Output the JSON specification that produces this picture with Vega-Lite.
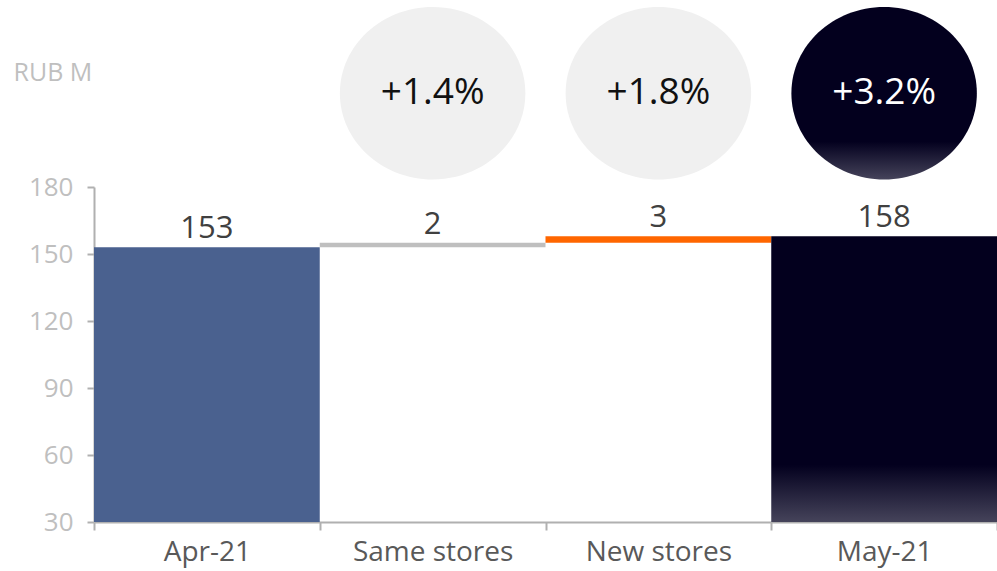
{
  "$schema": "https://vega.github.io/schema/vega-lite/v6.json",
  "autosize": "none",
  "width": 903,
  "height": 335,
  "padding": {"left": 94, "top": 187, "right": 0, "bottom": 49},
  "background": "white",
  "config": {
    "font": "Open Sans",
    "view": {"stroke": null}
  },
  "datasets": {
    "bars": [
      {"step": "Apr-21", "start": 30, "end": 153, "label": "153", "kind": "start"},
      {"step": "Same stores", "start": 153, "end": 155, "label": "2", "kind": "same"},
      {"step": "New stores", "start": 155, "end": 158, "label": "3", "kind": "new"},
      {"step": "May-21", "start": 30, "end": 158, "label": "158", "kind": "end"}
    ],
    "growth": [
      {"step": "Same stores", "pct": "+1.4%", "kind": "part"},
      {"step": "New stores", "pct": "+1.8%", "kind": "part"},
      {"step": "May-21", "pct": "+3.2%", "kind": "total"}
    ]
  },
  "encoding": {
    "x": {
      "field": "step",
      "type": "nominal",
      "sort": ["Apr-21", "Same stores", "New stores", "May-21"],
      "scale": {"paddingInner": 0, "paddingOuter": 0},
      "axis": {
        "title": null,
        "labelAngle": 0,
        "labelFontSize": 28,
        "labelColor": "#595959",
        "labelPadding": 8,
        "domainColor": "#b0b0b0",
        "domainWidth": 2,
        "tickColor": "#b0b0b0",
        "tickWidth": 2,
        "tickSize": 8,
        "tickBand": "extent"
      }
    }
  },
  "layer": [
    {
      "data": {"name": "bars"},
      "transform": [{"filter": "datum.kind !== 'end'"}],
      "mark": {"type": "bar"},
      "encoding": {
        "y": {
          "field": "start",
          "type": "quantitative",
          "scale": {"domain": [30, 180], "nice": false, "zero": false},
          "axis": {
            "values": [30, 60, 90, 120, 150, 180],
            "grid": false,
            "title": "RUB M",
            "titleAngle": 0,
            "titleAlign": "left",
            "titleBaseline": "middle",
            "titleX": -81,
            "titleY": -115,
            "titleFontSize": 25,
            "titleFontWeight": "normal",
            "titleColor": "#bfbfbf",
            "labelFontSize": 26,
            "labelColor": "#bfbfbf",
            "labelPadding": 14,
            "domainColor": "#b0b0b0",
            "domainWidth": 2,
            "tickColor": "#b0b0b0",
            "tickWidth": 2,
            "tickSize": 7
          }
        },
        "y2": {"field": "end"},
        "color": {
          "field": "kind",
          "type": "nominal",
          "scale": {"domain": ["start", "same", "new"], "range": ["#4a618f", "#bfbfbf", "#ff6600"]},
          "legend": null
        }
      }
    },
    {
      "data": {"name": "bars"},
      "transform": [{"filter": "datum.kind === 'end'"}],
      "mark": {
        "type": "bar",
        "color": {
          "gradient": "linear",
          "x1": 0, "y1": 0, "x2": 0, "y2": 1,
          "stops": [
            {"offset": 0, "color": "#03001e"},
            {"offset": 0.8, "color": "#03001e"},
            {"offset": 1, "color": "#45435a"}
          ]
        }
      },
      "encoding": {
        "y": {"field": "start", "type": "quantitative"},
        "y2": {"field": "end"}
      }
    },
    {
      "data": {"name": "bars"},
      "mark": {"type": "text", "baseline": "alphabetic", "dy": -9, "fontSize": 31, "color": "#404040"},
      "encoding": {
        "y": {"field": "end", "type": "quantitative"},
        "text": {"field": "label"}
      }
    },
    {
      "data": {"name": "growth"},
      "transform": [{"filter": "datum.kind === 'part'"}],
      "mark": {
        "type": "point",
        "filled": true,
        "opacity": 1,
        "shape": "M -1 0 A 1 0.93 0 1 1 1 0 A 1 0.93 0 1 1 -1 0 Z",
        "size": 34400,
        "color": "#f0f0f0"
      },
      "encoding": {
        "y": {"datum": 222, "type": "quantitative"}
      }
    },
    {
      "data": {"name": "growth"},
      "transform": [{"filter": "datum.kind === 'total'"}],
      "mark": {
        "type": "point",
        "filled": true,
        "opacity": 1,
        "shape": "M -1 0 A 1 0.93 0 1 1 1 0 A 1 0.93 0 1 1 -1 0 Z",
        "size": 34400,
        "color": {
          "gradient": "linear",
          "x1": 0, "y1": 0, "x2": 0, "y2": 1,
          "stops": [
            {"offset": 0, "color": "#03001e"},
            {"offset": 0.78, "color": "#03001e"},
            {"offset": 1, "color": "#45435a"}
          ]
        }
      },
      "encoding": {
        "y": {"datum": 222, "type": "quantitative"}
      }
    },
    {
      "data": {"name": "growth"},
      "transform": [{"filter": "datum.kind === 'part'"}],
      "mark": {"type": "text", "fontSize": 37, "baseline": "middle", "color": "#111111"},
      "encoding": {
        "y": {"datum": 222, "type": "quantitative"},
        "text": {"field": "pct"}
      }
    },
    {
      "data": {"name": "growth"},
      "transform": [{"filter": "datum.kind === 'total'"}],
      "mark": {"type": "text", "fontSize": 37, "baseline": "middle", "color": "#ffffff"},
      "encoding": {
        "y": {"datum": 222, "type": "quantitative"},
        "text": {"field": "pct"}
      }
    }
  ]
}
